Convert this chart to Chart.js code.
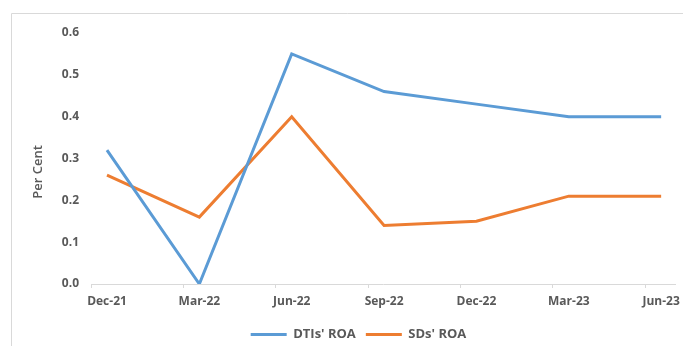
<!DOCTYPE html>
<html>
<head>
<meta charset="utf-8">
<script src="https://cdn.jsdelivr.net/npm/chart.js@4/dist/chart.umd.min.js"></script>
<style>
  html, body { margin: 0; padding: 0; background: #fff; }
  #wrap { position: relative; width: 683px; height: 346px; }
</style>
</head>
<body>
<div id="wrap"><canvas id="c" width="683" height="346"></canvas></div>
<script>
// Quarter-end dates on the horizontal axis
const quarters = ['Dec-21', 'Mar-22', 'Jun-22', 'Sep-22', 'Dec-22', 'Mar-23', 'Jun-23'];
// Return on assets, per cent
const dtisRoa = [0.32, 0.00, 0.55, 0.46, 0.43, 0.40, 0.40];
const sdsRoa = [0.26, 0.16, 0.40, 0.14, 0.15, 0.21, 0.21];
const yTicks = [0.0, 0.1, 0.2, 0.3, 0.4, 0.5, 0.6];
const yTitle = 'Per Cent';

const TICK_SHIFT = 0.173;   // tick marks sit just before each quarter's point
const TEXT = '#595959';
const FAMILY = '"Open Sans", "Liberation Sans", sans-serif';
const FONT = { family: FAMILY, size: 12, weight: 'bold' };
const LEGEND_FONT = { family: FAMILY, size: 13, weight: 'bold' };

const toPoints = arr => arr.map((v, i) => ({ x: i, y: v }));

// Light outer frame of the chart object
const framePlugin = {
  id: 'frame',
  beforeDraw(chart) {
    const ctx = chart.ctx;
    ctx.save();
    ctx.strokeStyle = '#d9d9d9';
    ctx.lineWidth = 1;
    ctx.beginPath();
    ctx.moveTo(11.5, chart.height);
    ctx.lineTo(11.5, 13.5);
    ctx.lineTo(chart.width, 13.5);
    ctx.stroke();
    ctx.restore();
  }
};

// Vertical axis caption, set a little below the middle of the plot
const yTitlePlugin = {
  id: 'yTitle',
  afterDraw(chart) {
    const ctx = chart.ctx;
    ctx.save();
    ctx.translate(38, 172);
    ctx.rotate(-Math.PI / 2);
    ctx.font = '600 13px ' + FAMILY;
    ctx.fillStyle = TEXT;
    ctx.textAlign = 'center';
    ctx.textBaseline = 'middle';
    ctx.fillText(yTitle, 0, 0);
    ctx.restore();
  }
};

// Nudge the legend row right and down
const legendShift = {
  id: 'legendShift',
  afterLayout(chart) {
    const lg = chart.legend;
    if (lg) {
      lg.left += 21; lg.right += 21;
      lg.top += 5; lg.bottom += 5;
    }
  }
};

new Chart(document.getElementById('c'), {
  type: 'line',
  data: {
    datasets: [
      {
        label: "DTIs' ROA",
        data: toPoints(dtisRoa),
        borderColor: '#5B9BD5',
        backgroundColor: '#5B9BD5',
        borderWidth: 3,
        pointRadius: 0,
        tension: 0
      },
      {
        label: "SDs' ROA",
        data: toPoints(sdsRoa),
        borderColor: '#ED7D31',
        backgroundColor: '#ED7D31',
        borderWidth: 3,
        pointRadius: 0,
        tension: 0
      }
    ]
  },
  options: {
    responsive: false,
    animation: false,
    devicePixelRatio: 1,
    layout: { padding: { top: 33, right: 8, bottom: 0, left: 0 } },
    plugins: {
      legend: {
        position: 'bottom',
        labels: {
          usePointStyle: true,
          pointStyle: 'line',
          pointStyleWidth: 36,
          color: TEXT,
          font: LEGEND_FONT,
          padding: 10
        }
      },
      tooltip: { enabled: false }
    },
    scales: {
      x: {
        type: 'linear',
        min: -TICK_SHIFT,
        max: 6.15,
        afterBuildTicks(scale) {
          scale.ticks = quarters.map((q, i) => ({ value: i - TICK_SHIFT }));
        },
        afterFit(scale) { scale.height = 29; },
        ticks: {
          color: TEXT,
          font: FONT,
          maxRotation: 0,
          autoSkip: false,
          labelOffset: 16,
          padding: 6,
          callback: (v, i) => quarters[i]
        },
        grid: {
          display: true,
          drawOnChartArea: false,
          drawTicks: true,
          tickLength: 4,
          color: '#d9d9d9'
        },
        border: { display: true, color: '#d9d9d9', width: 1 }
      },
      y: {
        min: 0,
        max: 0.6,
        afterBuildTicks(scale) {
          scale.ticks = yTicks.map(v => ({ value: v }));
        },
        afterFit(scale) { scale.width = 91; },
        ticks: {
          color: TEXT,
          font: FONT,
          padding: 12,
          callback: v => v.toFixed(1)
        },
        grid: { display: false, drawTicks: false },
        border: { display: false },
        title: { display: false }
      }
    }
  },
  plugins: [framePlugin, yTitlePlugin, legendShift]
});
</script>
</body>
</html>
